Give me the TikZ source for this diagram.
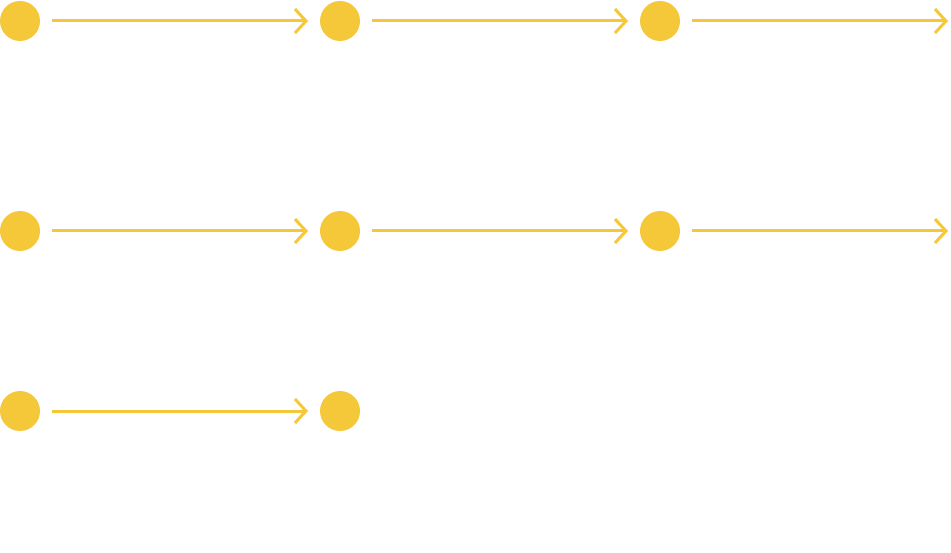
\documentclass[tikz,border=0pt]{standalone}
\usepackage{tikz}
\usetikzlibrary{
  arrows.meta,
  positioning
}
\definecolor{dotyellow}{RGB}{245, 200, 58}
\tikzset{
  dot/.style = {
    circle, fill=dotyellow, draw=none,
    minimum size=0.8cm, inner sep=0pt, outer sep=0pt
  },
  arr/.style = {
    -{Straight Barb[length=0.22cm, width=0.48cm]},
    draw=dotyellow, line width=0.06cm,
    shorten <=0.24cm, shorten >=0.24cm
  },
  arrout/.style = {arr, shorten >=0pt},
}

\begin{document}
\begin{tikzpicture}

  \useasboundingbox (0,0) rectangle (19.02,-11.06);

  %% Row 1
  \node[dot] (r1a) at (0.4,-0.42) {};
  \node[dot, right=5.6cm of r1a] (r1b) {};
  \node[dot, right=5.6cm of r1b] (r1c) {};
  \coordinate[right=5.36cm of r1c] (r1end);

  %% Row 2
  \node[dot, below=3.4cm of r1a] (r2a) {};
  \node[dot, right=5.6cm of r2a] (r2b) {};
  \node[dot, right=5.6cm of r2b] (r2c) {};
  \coordinate[right=5.36cm of r2c] (r2end);

  %% Row 3
  \node[dot, below=2.8cm of r2a] (r3a) {};
  \node[dot, right=5.6cm of r3a] (r3b) {};

  \draw[arr] (r1a)--(r1b);
  \draw[arr] (r1b)--(r1c);
  \draw[arrout] (r1c)--(r1end);

  \draw[arr] (r2a)--(r2b);
  \draw[arr] (r2b)--(r2c);
  \draw[arrout] (r2c)--(r2end);

  \draw[arr] (r3a)--(r3b);

\end{tikzpicture}
\end{document}
